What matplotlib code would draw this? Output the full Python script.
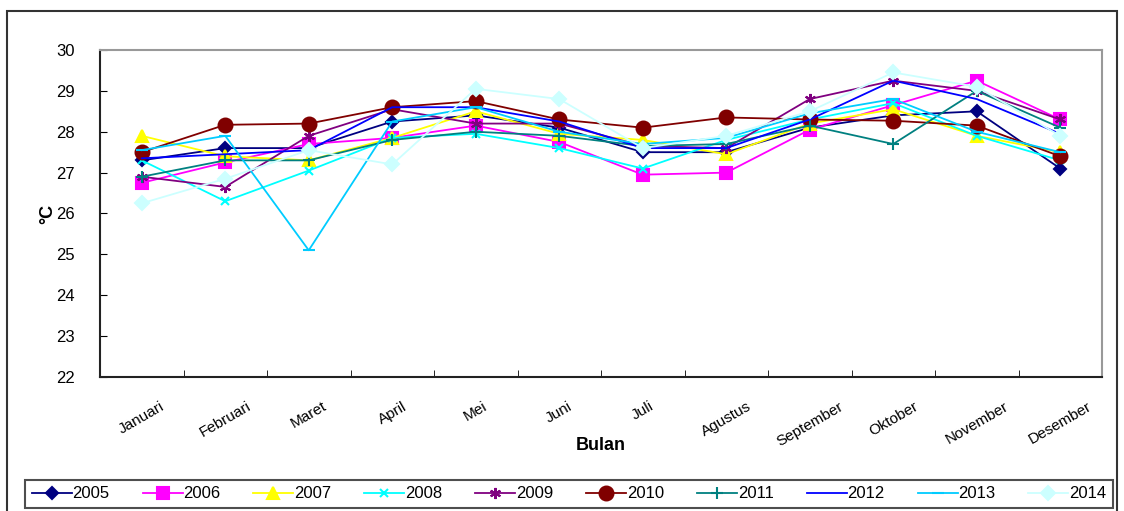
""" Suhu rata-rata bulanan 2005-2014
"""

import matplotlib.pyplot as plt
from matplotlib.patches import Rectangle

bulan = ['Januari', 'Februari', 'Maret', 'April', 'Mei', 'Juni', 'Juli',
         'Agustus', 'September', 'Oktober', 'November', 'Desember']

t2005 = [27.3, 27.6, 27.6, 28.25, 28.4, 28.1, 27.5, 27.5, 28.1, 28.4, 28.5, 27.1]
t2006 = [26.75, 27.25, 27.7, 27.85, 28.15, 27.75, 26.95, 27.0, 28.05, 28.65, 29.25, 28.3]
t2007 = [27.9, 27.4, 27.3, 27.85, 28.5, 27.95, 27.8, 27.45, 28.2, 28.55, 27.9, 27.5]
t2008 = [27.3, 26.3, 27.05, 27.85, 27.95, 27.6, 27.1, 27.8, 28.3, 28.7, 27.9, 27.3]
t2009 = [26.9, 26.65, 27.9, 28.55, 28.2, 28.2, 27.65, 27.6, 28.8, 29.25, 29.0, 28.3]
t2010 = [27.5, 28.17, 28.2, 28.6, 28.75, 28.3, 28.1, 28.35, 28.3, 28.27, 28.15, 27.4]
t2011 = [26.9, 27.3, 27.3, 27.8, 28.0, 27.9, 27.65, 27.7, 28.15, 27.7, 29.0, 28.1]
t2012 = [27.35, 27.45, 27.55, 28.6, 28.6, 28.25, 27.6, 27.6, 28.3, 29.25, 28.8, 27.95]
t2013 = [27.55, 27.9, 25.1, 28.25, 28.6, 28.0, 27.7, 27.85, 28.45, 28.8, 28.0, 27.5]
t2014 = [26.25, 26.85, 27.55, 27.2, 29.05, 28.8, 27.6, 27.9, 28.5, 29.45, 29.1, 27.9]

series = [
    ('2005', t2005, '#000080', 'D', 6),
    ('2006', t2006, '#FF00FF', 's', 9),
    ('2007', t2007, '#FFFF00', '^', 9),
    ('2008', t2008, '#00FFFF', 'x', 6),
    ('2009', t2009, '#800080', (6, 2, 0), 8),
    ('2010', t2010, '#800000', 'o', 10),
    ('2011', t2011, '#008080', '+', 8),
    ('2012', t2012, '#0000FF', None, 0),
    ('2013', t2013, '#00CCFF', '_', 8),
    ('2014', t2014, '#CCFFFF', 'D', 7),
]


def main():
    plt.rcParams['font.family'] = ['Liberation Sans', 'DejaVu Sans']
    out_dpi = 100
    fig = plt.figure(figsize=(1124/out_dpi, 511/out_dpi), dpi=out_dpi)
    ax = fig.add_axes([100/1124, 1 - 377/511, 1002/1124, 327/511])

    # outer chart border
    fig.patches.append(Rectangle((7/1124, -0.02), 1110/1124, 1 - 11/511 + 0.02,
                                 transform=fig.transFigure, fill=False,
                                 edgecolor='#333333', linewidth=1.5))

    x = list(range(len(bulan)))
    for name, vals, color, marker, ms in series:
        ax.plot(x, vals, color=color, marker=marker, markersize=ms,
                markeredgewidth=1.5, linewidth=1.3, label=name)

    ax.set_xlim(-0.5, 11.5)
    ax.set_ylim(22, 30)
    ax.set_yticks(range(22, 31))
    ax.tick_params(axis='y', direction='in', length=5, labelsize=12,
                   pad=18)
    ax.set_xticks(x)
    ax.set_xticklabels(bulan, rotation=30, ha='center', fontsize=11)
    ax.tick_params(axis='x', length=0, pad=16)
    ax.set_xticks([i + 0.5 for i in range(11)], minor=True)
    ax.tick_params(axis='x', which='minor', direction='in', length=5)

    for side in ['left', 'bottom']:
        ax.spines[side].set_color('#222222')
        ax.spines[side].set_linewidth(1.5)
    for side in ['top', 'right']:
        ax.spines[side].set_color('#999999')
        ax.spines[side].set_linewidth(1.5)

    ax.set_xlabel('Bulan', fontsize=13, fontweight='bold', labelpad=-8)
    ax.set_ylabel('°C', fontsize=13, fontweight='bold', labelpad=0)

    leg = fig.legend(loc='lower left', ncol=10, mode='expand',
                     bbox_to_anchor=(25/1124, 3/511, 1088/1124, 40/511),
                     fontsize=12, frameon=True, fancybox=False,
                     handlelength=2.4, handletextpad=0.05, columnspacing=0.6,
                     borderaxespad=0)
    leg.get_frame().set_edgecolor('#222222')
    leg.get_frame().set_linewidth(1.5)

    fig.savefig('out.png', dpi=out_dpi)


if __name__ == '__main__':
    main()
